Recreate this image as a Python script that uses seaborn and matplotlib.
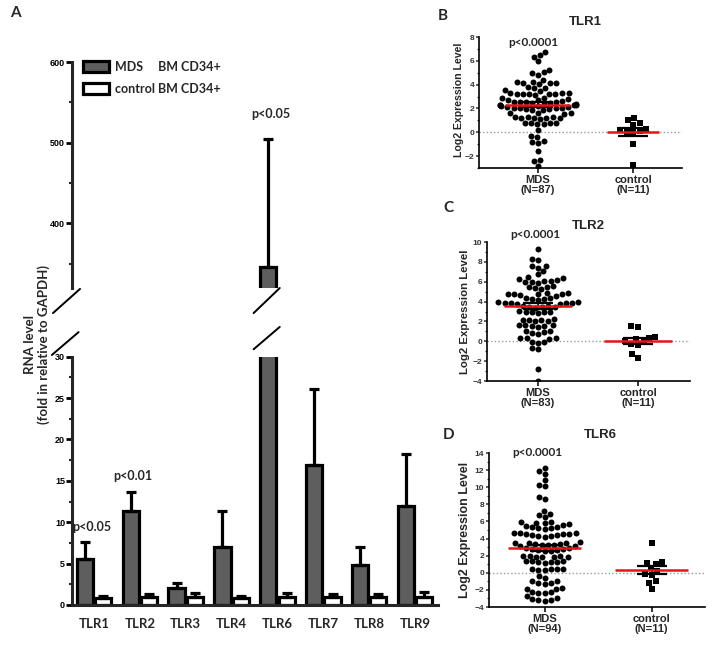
import numpy as np
import pandas as pd
import matplotlib
matplotlib.use("Agg")
import matplotlib.pyplot as plt
import matplotlib.transforms as mtransforms
from matplotlib.patches import Patch
from matplotlib.ticker import MultipleLocator
from matplotlib.font_manager import FontProperties
import seaborn as sns

# ---------------- Panel A data ----------------
genes = ["TLR1", "TLR2", "TLR3", "TLR4", "TLR6", "TLR7", "TLR8", "TLR9"]
groups = ["MDS", "control"]
legend_labels = ["MDS     BM CD34+", "control BM CD34+"]
mds_mean = [5.6, 11.3, 2.1, 7.0, 346.0, 16.9, 4.8, 12.0]
mds_err = [2.0, 2.4, 0.6, 4.3, 158.0, 9.2, 2.2, 6.3]
ctrl_mean = [0.9, 1.0, 1.0, 0.9, 1.0, 1.0, 0.95, 1.0]
ctrl_err = [0.15, 0.35, 0.4, 0.2, 0.4, 0.35, 0.35, 0.6]
pvals_A = ["p<0.05", "p<0.01", "p<0.05"]  # TLR1, TLR2, TLR6
ylabel_A = "RNA level\n(fold in relative to GAPDH)"

# ---------------- Panels B-D data ----------------
tlr1_mds = [6.75, 6.45, 6.35, 5.95,
            5.2, 5.05, 5.0, 4.85,
            4.4, 4.2, 4.15, 4.1, 4.1, 4.05, 4.2,
            3.8, 3.75, 3.7, 3.55, 3.5, 3.3,
            3.3, 3.25, 3.2, 3.2, 3.25, 3.3, 3.2, 3.15,
            2.9, 2.8, 2.75, 2.85, 2.7, 2.6,
            2.55, 2.5, 2.45, 2.5, 2.4, 2.45, 2.55, 2.35,
            2.3, 2.25, 2.2, 2.2, 2.15, 2.3, 2.25, 2.1,
            2.0, 1.95, 2.0, 1.9, 2.05, 1.95, 1.9, 2.0,
            1.65, 1.6, 1.55, 1.6,
            1.25, 1.2, 1.2, 1.15, 1.25, 1.2, 1.3, 1.2,
            0.8, 0.75, 0.7, 0.7, 0.75, 0.8,
            0.2, -0.3, -0.4, -0.7, -0.85, -0.9, -1.6, -2.3, -2.45, -2.85]
tlr1_ctrl = [1.2, 0.8, 0.65, 1.0, 0.3, 0.15, 0.05, 0.0, 0.1, -1.0, -2.75]

tlr2_mds = [9.25, 8.3, 8.15, 7.6, 7.55, 7.4, 7.05, 6.75,
            6.45, 6.4, 6.3, 6.2, 6.1, 6.05, 5.95, 5.9, 6.0,
            5.55, 5.5, 5.4, 5.3, 5.45,
            4.85, 4.8, 4.75, 4.7, 4.8, 4.85, 4.6, 4.75,
            4.4, 4.3, 4.3, 4.2, 4.35,
            3.95, 3.9, 3.85, 3.8, 3.9, 3.75, 3.95, 3.85,
            3.55, 3.5, 3.45, 3.5, 3.4, 3.55,
            3.0, 2.95, 2.9, 3.05, 2.85, 3.0,
            2.15, 2.1, 2.05, 2.0, 2.1, 2.2,
            1.65, 1.6, 1.55, 1.5, 1.6, 1.45,
            1.05, 1.0, 0.9, 0.8, 0.75,
            0.35, 0.3, 0.25, 0.3,
            -0.05, -0.1, -0.15,
            -0.7, -0.8,
            -2.75, -4.0]
tlr2_ctrl = [1.5, 1.45, 0.4, 0.35, 0.2, 0.0, -0.1, -0.3, -0.4, -1.3, -1.65]

tlr6_mds = [12.2, 11.85, 11.5, 10.8, 10.3, 10.1, 8.8, 8.6, 7.2, 6.9, 6.7, 6.5,
            5.95, 5.85, 5.7, 5.5, 5.3, 5.2, 5.1, 5.2, 5.35, 5.6, 5.8, 5.9,
            4.55, 4.5, 4.4, 4.3, 4.2, 4.25, 4.4, 4.5, 4.65, 4.7, 4.6,
            3.5, 3.4, 3.3, 3.2, 3.1, 3.15, 3.25, 3.4, 3.5, 3.45, 3.6,
            2.9, 2.8, 2.7, 2.6, 2.65, 2.75, 2.85, 2.6,
            2.0, 1.9, 1.85, 1.8, 1.9, 2.0, 1.95,
            1.35, 1.3, 1.2, 1.25, 1.3, 1.35, 1.4,
            0.5, 0.4, 0.3, 0.35, 0.45, 0.4,
            -0.4, -0.6, -0.95, -1.0,
            -1.15, -1.25, -1.3,
            -1.8, -1.85, -1.9,
            -2.3, -2.35, -2.4, -2.25,
            -2.7, -2.9, -3.05, -3.2, -3.3, -3.15]
tlr6_ctrl = [3.5, 1.3, 1.2, 1.0, 0.55, 0.2, -0.1, -0.3, -1.0, -1.2, -1.9]

titles = ["TLR1", "TLR2", "TLR6"]
letters = ["B", "C", "D"]
xticklabels = [["MDS\n(N=87)", "control\n(N=11)"],
               ["MDS\n(N=83)", "control\n(N=11)"],
               ["MDS\n(N=94)", "control\n(N=11)"]]
pval_text = "p<0.0001"
ylabel_scatter = "Log2 Expression Level"

# ---------------- figure ----------------
sns.set_theme(style="ticks")
plt.rcParams["font.family"] = ["Liberation Sans", "DejaVu Sans"]
plt.rcParams["font.weight"] = "bold"

W, H = 714, 646
fig = plt.figure(figsize=(W / 100, H / 100), dpi=100)
fig.patch.set_facecolor("white")


def box(l, t, r, b):
    return [l / W, 1 - b / H, (r - l) / W, (b - t) / H]


def ftext(x, y, s, **kw):
    return fig.text(x / W, 1 - y / H, s, **kw)


LATO = ["Lato", "DejaVu Sans"]

# ---------------- Panel A ----------------
ax_lo = fig.add_axes(box(72, 356.7, 438, 605))
ax_hi = fig.add_axes(box(72, 62, 438, 288))

dfA = pd.DataFrame({"gene": genes * 2,
                    "group": ["MDS"] * len(genes) + ["control"] * len(genes),
                    "value": mds_mean + ctrl_mean})
pal = {"MDS": "#5e5e5e", "control": "white"}
xs = np.arange(len(genes))
for ax in (ax_lo, ax_hi):
    sns.barplot(data=dfA, x="gene", y="value", hue="group", order=genes,
                hue_order=groups, palette=pal, edgecolor="black",
                linewidth=2.3, errorbar=None, gap=0.12, width=0.8,
                legend=False, ax=ax)
    ax.errorbar(xs - 0.2, mds_mean, yerr=[np.zeros(len(genes)), mds_err],
                fmt="none", ecolor="black", elinewidth=2.3, capsize=3.5,
                capthick=2.3)
    ax.errorbar(xs + 0.2, ctrl_mean, yerr=[np.zeros(len(genes)), ctrl_err],
                fmt="none", ecolor="black", elinewidth=2.3, capsize=3.5,
                capthick=2.3)
    ax.set_xlim(-0.48, 7.5)
    ax.set_xlabel("")
    ax.set_ylabel("")
    ax.spines["top"].set_visible(False)
    ax.spines["right"].set_visible(False)
    ax.spines["left"].set_linewidth(2.2)
    ax.spines["bottom"].set_linewidth(2.2)
    ax.tick_params(axis="y", which="major", length=4, width=2, pad=1,
                   labelsize=6.5, colors="black")
    ax.tick_params(axis="y", which="minor", length=2.5, width=1.5)
    ax.set_facecolor("white")

ax_lo.set_ylim(0, 30)
ax_lo.yaxis.set_major_locator(MultipleLocator(5))
ax_lo.yaxis.set_minor_locator(MultipleLocator(2.5))
ax_lo.tick_params(axis="x", length=0, pad=9)
for lab in ax_lo.get_xticklabels():
    lab.set_fontfamily(LATO)
    lab.set_fontsize(9.5)
    lab.set_fontweight("bold")

ax_hi.set_ylim(320, 600)
ax_hi.yaxis.set_major_locator(MultipleLocator(100))
ax_hi.yaxis.set_minor_locator(MultipleLocator(50))
ax_hi.spines["bottom"].set_visible(False)
ax_hi.tick_params(axis="x", bottom=False, labelbottom=False)
for ax in (ax_lo, ax_hi):
    for lab in ax.get_yticklabels():
        lab.set_fontweight("bold")

# legend
handles = [Patch(facecolor=pal[g], edgecolor="black", linewidth=2.3) for g in groups]
ax_hi.legend(handles, legend_labels, loc="upper left", bbox_to_anchor=(0.03, 1.005),
             frameon=False, handlelength=2.1, handleheight=1.0, labelspacing=0.8,
             handletextpad=0.45, borderpad=0, borderaxespad=0,
             prop=FontProperties(family=LATO, weight="bold", size=9))

# break marks
kw = dict(color="black", lw=1.4, clip_on=False)
ax_hi.plot([-0.052, 0.022], [-0.111, -0.004], transform=ax_hi.transAxes, **kw)
ax_lo.plot([-0.055, 0.018], [1.007, 1.099], transform=ax_lo.transAxes, **kw)
tr_hi = mtransforms.blended_transform_factory(ax_hi.transData, ax_hi.transAxes)
tr_lo = mtransforms.blended_transform_factory(ax_lo.transData, ax_lo.transAxes)
bx = 4 - 0.2
ax_hi.plot([bx - 0.32, bx + 0.25], [-0.111, 0.0], transform=tr_hi, **kw)
ax_lo.plot([bx - 0.32, bx + 0.25], [1.03, 1.12], transform=tr_lo, **kw)

# p values & labels
pfont = dict(family=LATO, weight="bold", size=9, ha="center", va="center")
ftext(92, 527, pvals_A[0], **pfont)
ftext(133, 476, pvals_A[1], **pfont)
ftext(271, 114, pvals_A[2], **pfont)
ftext(37, 344, ylabel_A, family=LATO, weight="bold", size=9.5, rotation=90,
      ha="center", va="center", linespacing=1.15, multialignment="center")
ftext(15, 13, "A", family=LATO, weight="bold", size=11, ha="center", va="center")

# ---------------- Panels B-D ----------------
scatter_specs = [
    dict(rect=(479, 37, 682, 168), xlim=(-0.615, 1.51), ylim=(-3, 8),
         mds=tlr1_mds, ctrl=tlr1_ctrl, half=(0.34, 0.27),
         title_xy=(585, 22), letter_xy=(443, 16), p_xy=(533, 42),
         ylab_xy=(459, 100), ylab_size=7.6),
    dict(rect=(487, 242, 690, 381), xlim=(-0.51, 1.52), ylim=(-4, 10),
         mds=tlr2_mds, ctrl=tlr2_ctrl, half=(0.34, 0.34),
         title_xy=(588, 226), letter_xy=(448, 208), p_xy=(535, 235),
         ylab_xy=(465, 312), ylab_size=8.2),
    dict(rect=(489, 453, 705, 607), xlim=(-0.52, 1.5), ylim=(-4, 14),
         mds=tlr6_mds, ctrl=tlr6_ctrl, half=(0.34, 0.34),
         title_xy=(600, 435), letter_xy=(449, 435), p_xy=(537, 453),
         ylab_xy=(465, 530), ylab_size=9),
]

for k, sp in enumerate(scatter_specs):
    ax = fig.add_axes(box(*sp["rect"]))
    ax.set_facecolor("white")
    dmds = pd.DataFrame({"group": ["MDS"] * len(sp["mds"]), "value": sp["mds"]})
    dctl = pd.DataFrame({"group": ["control"] * len(sp["ctrl"]), "value": sp["ctrl"]})
    ax.axhline(0, color="#9a9a9a", lw=1.0, ls=(0, (1, 1.6)), zorder=0)
    sns.swarmplot(data=dmds, x="group", y="value", order=groups, color="black",
                  size=4.3, marker="o", linewidth=0, ax=ax, zorder=2)
    sns.swarmplot(data=dctl, x="group", y="value", order=groups, color="black",
                  size=4.6, marker="s", linewidth=0, ax=ax, zorder=2)
    for i, vals in enumerate([sp["mds"], sp["ctrl"]]):
        v = np.asarray(vals)
        m = v.mean()
        se = v.std(ddof=1) / np.sqrt(len(v))
        ax.errorbar([i], [m], yerr=[se], fmt="none", ecolor="black",
                    elinewidth=1.2, capsize=11, capthick=1.6, zorder=4)
        ax.hlines(m, i - sp["half"][i], i + sp["half"][i], color="#e8141b",
                  lw=1.8, zorder=5)
    ax.set_xlim(*sp["xlim"])
    ax.set_ylim(*sp["ylim"])
    ax.yaxis.set_major_locator(MultipleLocator(2))
    ax.yaxis.set_minor_locator(MultipleLocator(1))
    ax.set_xticks([0, 1])
    ax.set_xticklabels(xticklabels[k], fontsize=8, fontweight="bold",
                       linespacing=1.0)
    ax.set_xlabel("")
    ax.set_ylabel("")
    for s in ("top", "right"):
        ax.spines[s].set_visible(False)
    for s in ("left", "bottom"):
        ax.spines[s].set_linewidth(1.2)
        ax.spines[s].set_color("black")
    ax.tick_params(axis="y", which="major", length=2.5, width=1.1, pad=0.8,
                   labelsize=6, labelcolor="#333333", color="#333333")
    ax.tick_params(axis="y", which="minor", length=1.6, width=0.9, color="#333333")
    ax.tick_params(axis="x", length=3.5, width=1.1, pad=1.5, color="black")
    for lab in ax.get_yticklabels():
        lab.set_fontweight("bold")
    ftext(*sp["title_xy"], titles[k], size=9.5, weight="bold", ha="center", va="center")
    ftext(*sp["letter_xy"], letters[k], family=LATO, size=11, weight="bold",
          ha="center", va="center")
    ftext(*sp["p_xy"], pval_text, family=LATO, size=8.5, weight="bold",
          ha="center", va="center")
    ftext(*sp["ylab_xy"], ylabel_scatter, size=sp["ylab_size"], weight="bold",
          rotation=90, ha="center", va="center")

fig.savefig("out.png", dpi=100, facecolor="white")
